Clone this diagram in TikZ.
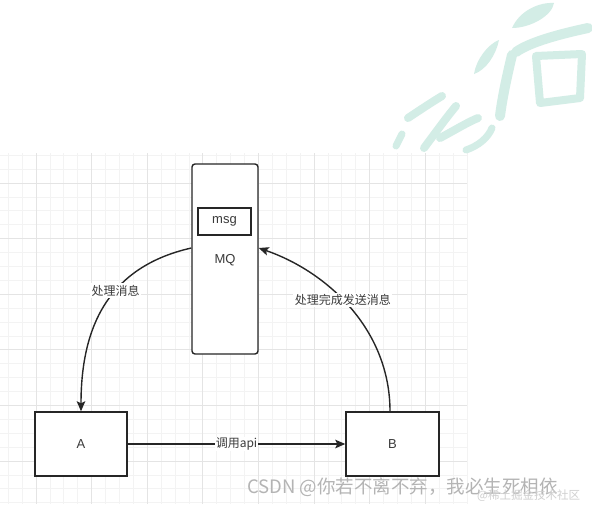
\documentclass[tikz,border=0pt]{standalone}
\usepackage{fontspec}
\setmainfont{Liberation Sans}
\newfontfamily\cjk{Noto Sans CJK SC}
\usetikzlibrary{arrows.meta,calc}
\definecolor{gridminor}{HTML}{F3F3F3}
\definecolor{gridmajor}{HTML}{E4E4E4}
\definecolor{ink}{HTML}{262626}
\definecolor{txt}{HTML}{3A3A3A}
\definecolor{wmteal}{HTML}{D3EDE6}
\definecolor{wmgray}{HTML}{B4B4B4}
\definecolor{wmlight}{HTML}{CFCFCF}
\tikzset{
  boxnode/.style={draw=ink, line width=1.4pt, fill=white, minimum width=#1, font=\fontsize{13}{15}\selectfont, text=txt, inner sep=0pt},
  conn/.style={draw=ink, line width=1.4pt, -{Stealth[length=10pt,width=8.5pt,inset=2pt]}},
  lbl/.style={fill=white, inner sep=1.5pt, font=\cjk\fontsize{12}{14}\selectfont, text=txt},
  wm/.style={draw=wmteal, line cap=round, line join=round}
}
\begin{document}
\begin{tikzpicture}[x=1pt,y=-1pt]
\useasboundingbox (0,0) rectangle (592,504);
\fill[white] (0,0) rectangle (592,504);
% grid
\foreach \i in {0,...,33} { \draw[gridminor, line width=0.8pt] ({8.2+13.9*\i},153) -- ({8.2+13.9*\i},504); }
\foreach \j in {0,...,25} { \draw[gridminor, line width=0.8pt] (0,{155.2+13.9*\j}) -- (467,{155.2+13.9*\j}); }
\foreach \i in {0,...,7} { \draw[gridmajor, line width=1pt] ({36+55.6*\i},153) -- ({36+55.6*\i},504); }
\foreach \j in {0,...,5} { \draw[gridmajor, line width=1pt] (0,{183+55.6*\j}) -- (467,{183+55.6*\j}); }
% watermark calligraphy
\fill[wmteal] (512,28) .. controls (520,10) and (540,2) .. (554,3) .. controls (552,16) and (530,28) .. cycle;
\draw[wm, line width=10pt] (588,28) .. controls (560,34) and (530,42) .. (516,52);
\draw[wm, line width=10pt] (512,55) .. controls (506,80) and (502,100) .. (500,116);
\draw[wm, line width=8pt] (536,56) -- (582,54) -- (580,98) -- (540,103) -- cycle;
\fill[wmteal] (474,74) .. controls (476,60) and (488,44) .. (499,40) .. controls (496,55) and (486,70) .. cycle;
\draw[wm, line width=7pt] (396,146) -- (402,134);
\draw[wm, line width=8pt] (408,118) .. controls (420,110) and (432,102) .. (442,96);
\draw[wm, line width=8pt] (424,148) .. controls (436,132) and (446,118) .. (456,106);
\draw[wm, line width=8pt] (440,138) .. controls (455,130) and (468,122) .. (478,118);
\draw[wm, line width=7pt] (466,150) .. controls (478,146) and (488,138) .. (492,128);
% nodes
\node[draw=ink, line width=1.4pt, rounded corners=3pt, minimum width=66pt, minimum height=190pt, inner sep=0pt, fill=white] (MQ) at (225,259) {};
\node[boxnode=53pt, minimum height=27pt] (msg) at (224.5,221.5) {msg};
\node[font=\fontsize{13}{15}\selectfont, text=txt, inner sep=0pt] (mqlabel) at (225,260) {MQ};
\node[boxnode=92pt, minimum height=64pt] (A) at (81,444) {A};
\node[boxnode=93pt, minimum height=64pt] (B) at (392.5,444) {B};
% connectors
\draw[conn] (A.east) -- node[lbl, inner sep=1pt, pos=0.5] {调用api} (B.west);
\draw[conn] ([yshift=11pt]MQ.west) .. controls (112,266) and (81,322) .. node[lbl, pos=0.42] {处理消息} (A.north);
\draw[conn] ([xshift=-2.5pt]B.north) .. controls (390,330) and (328,272) .. node[lbl, pos=0.55] {处理完成发送消息} ([yshift=11pt]MQ.east);
% watermark texts
\node[anchor=base west, inner sep=0pt, text=wmgray, font=\cjk\fontsize{18.5}{20}\selectfont] (csdn) at (247,493) {CSDN @你若不离不弃，我必生死相依};
\node[anchor=base west, inner sep=0pt, text=wmlight, font=\cjk\fontsize{11.5}{13}\selectfont] (juejin) at (477,499) {@稀土掘金技术社区};
\end{tikzpicture}
\end{document}
